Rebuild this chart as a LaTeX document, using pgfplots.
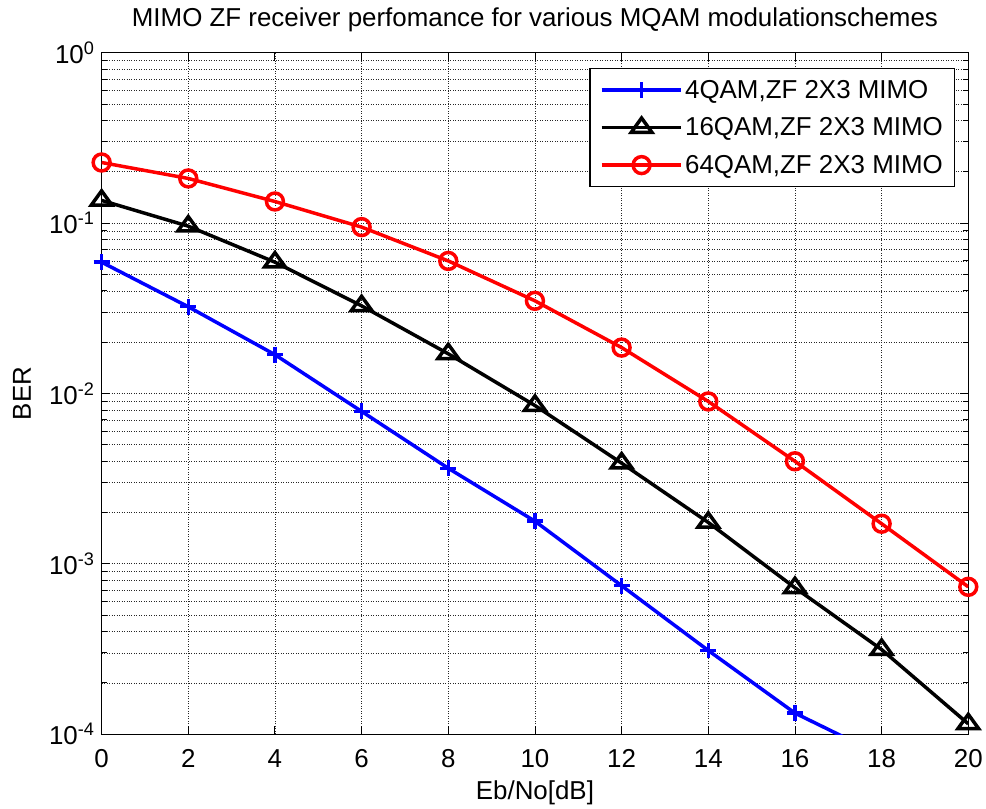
\documentclass[border=0pt]{standalone}
\usepackage{fontspec}
\setmainfont{Liberation Sans}
\usepackage{pgfplots}
\pgfplotsset{compat=1.18}
\usetikzlibrary{calc}
\newcommand\ff{\fontsize{26}{30}\selectfont}
\begin{document}
\begin{tikzpicture}
\begin{axis}[
 scale only axis, width=870pt, height=684pt,
 xmin=0, xmax=20, ymode=log, ymin=1e-4, ymax=1,
 xtick={0,2,...,20},
 ytick={1e-4,1e-3,1e-2,1e-1,1},
 yticklabels={10\textsuperscript{-4},10\textsuperscript{-3},10\textsuperscript{-2},10\textsuperscript{-1},10\textsuperscript{0}},
 minor ytick={2e-4,3e-4,4e-4,5e-4,6e-4,7e-4,8e-4,9e-4,
   2e-3,3e-3,4e-3,5e-3,6e-3,7e-3,8e-3,9e-3,
   2e-2,3e-2,4e-2,5e-2,6e-2,7e-2,8e-2,9e-2,
   2e-1,3e-1,4e-1,5e-1,6e-1,7e-1,8e-1,9e-1},
 grid=both,
 major grid style={black!85, line width=0.75pt, dash pattern=on 1pt off 1.5pt},
 minor grid style={black!85, line width=0.75pt, dash pattern=on 1pt off 1.5pt},
 axis line style={line width=1.2pt},
 tick style={black, line width=0.9pt},
 major tick length=8pt, minor tick length=5pt,
 /pgf/number format/assume math mode=true,
 tick label style={font=\ff},
 xticklabel style={anchor=base, yshift=-33pt},
 yticklabel style={anchor=east, inner sep=0pt, xshift=-7pt},
 title={MIMO ZF receiver perfomance for various MQAM modulationschemes},
 title style={font=\ff, at={(0.5,1.0292)}, anchor=base},
 xlabel={Eb/No[dB]},
 xlabel style={font=\ff, at={(0.5,-0.0965)}, anchor=base},
 ylabel={BER},
 ylabel style={font=\ff, at={(-0.092,0.5)}, anchor=center},
 legend style={at={(1,1)}, anchor=north east, xshift=-13pt, yshift=-15pt,
   draw=black, line width=1.2pt, font=\ff, row sep=14pt, inner xsep=10pt, inner ysep=10pt},
 legend cell align=left,
 legend image code/.code={\draw[mark repeat=2,mark phase=2] plot coordinates {(0pt,0pt) (40pt,0pt) (80pt,0pt)};},
]
\addplot[blue, line width=3.5pt, mark=+, mark size=8pt] coordinates {
 (0,0.059) (2,0.0323) (4,0.0169) (6,0.00785) (8,0.00364) (10,0.00178)
 (12,0.000744) (14,0.000310) (16,0.000133) (18,0.000075) (20,0.000025)};
\addlegendentry{4QAM,ZF 2X3 MIMO}
\addplot[black, line width=3.5pt, mark=triangle, mark size=12pt, mark options={yscale=0.8}] coordinates {
 (0,0.136) (2,0.096) (4,0.059) (6,0.0327) (8,0.0171) (10,0.0085)
 (12,0.0039) (14,0.00175) (16,0.000724) (18,0.000314) (20,0.000115)};
\addlegendentry{16QAM,ZF 2X3 MIMO}
\addplot[red, line width=3.5pt, mark=o, mark size=8.5pt] coordinates {
 (0,0.227) (2,0.183) (4,0.134) (6,0.0948) (8,0.060) (10,0.035)
 (12,0.0186) (14,0.00898) (16,0.0040) (18,0.00172) (20,0.000733)};
\addlegendentry{64QAM,ZF 2X3 MIMO}
\end{axis}
\path[use as bounding box] ($(current axis.south west)+(-102pt,-71pt)$) rectangle ($(current axis.north east)+(14pt,53pt)$);
\end{tikzpicture}
\end{document}
